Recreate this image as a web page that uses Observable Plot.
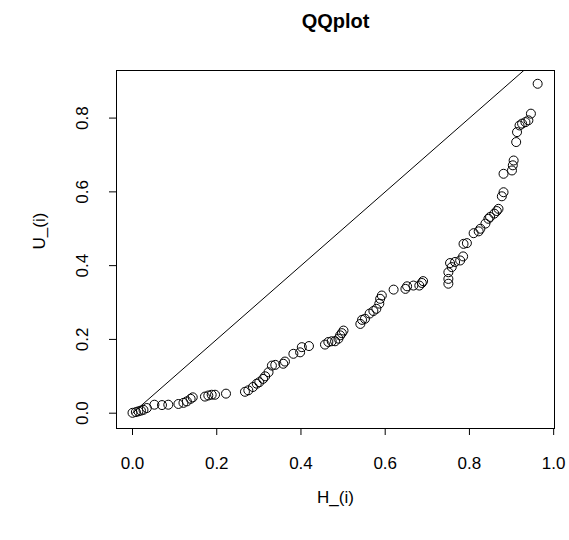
<!DOCTYPE html>
<html>
<head>
<meta charset="utf-8">
<script src="https://cdn.jsdelivr.net/npm/d3@7"></script>
<script src="https://cdn.jsdelivr.net/npm/@observablehq/plot@0.6"></script>
<style>
  html, body { margin: 0; padding: 0; background: white; }
</style>
</head>
<body>
<div id="chart"></div>
<script>
const H = [0.000,0.008,0.014,0.020,0.026,0.034,0.052,0.070,0.085,0.109,0.121,0.129,0.138,0.143,0.172,0.180,0.188,0.196,0.222,
  0.267,0.275,0.286,0.295,0.301,0.310,0.315,0.323,0.331,0.339,0.358,0.362,0.382,0.398,0.402,0.419,0.457,0.465,0.473,0.481,0.489,0.493,0.497,0.501,
  0.541,0.545,0.552,0.563,0.572,0.579,0.586,0.588,0.592,0.620,0.648,0.652,0.667,0.681,0.687,0.690,
  0.750,0.750,0.750,0.758,0.754,0.766,0.778,0.785,0.786,0.794,0.810,0.822,0.826,0.838,0.845,0.849,0.859,0.865,0.869,0.877,0.881,
  0.881,0.901,0.903,0.905,0.911,0.913,0.919,0.925,0.933,0.940,0.946,0.962];
const U = [0.001,0.003,0.005,0.007,0.009,0.014,0.023,0.022,0.023,0.025,0.028,0.032,0.039,0.043,0.045,0.048,0.050,0.050,0.053,
  0.058,0.062,0.071,0.080,0.084,0.093,0.100,0.111,0.129,0.131,0.134,0.140,0.161,0.165,0.179,0.182,0.186,0.193,0.195,0.195,0.202,0.211,0.217,0.224,
  0.242,0.253,0.256,0.270,0.277,0.283,0.297,0.310,0.319,0.335,0.337,0.344,0.346,0.346,0.353,0.358,
  0.351,0.364,0.382,0.396,0.407,0.410,0.414,0.425,0.459,0.461,0.488,0.493,0.500,0.514,0.527,0.532,0.541,0.548,0.554,0.588,0.599,
  0.649,0.658,0.672,0.685,0.735,0.762,0.780,0.785,0.789,0.794,0.812,0.893];
const xTicks = [0, 0.2, 0.4, 0.6, 0.8, 1.0];
const yTicks = [0, 0.2, 0.4, 0.6, 0.8];
const refLine = [0, 1];
const title = "QQplot";
const xLabel = "H_(i)";
const yLabel = "U_(i)";

const points = H.map((h, i) => ({h, u: U[i]}));
const xDomain = [-0.038, 1.002];
const yDomain = [-0.0415, 0.929];
const fmt = d3.format(".1f");
const font = "Liberation Sans, Arial, Helvetica, sans-serif";

const chart = Plot.plot({
  width: 569,
  height: 540,
  marginLeft: 116,
  marginRight: 15,
  marginTop: 70,
  marginBottom: 112,
  style: {fontFamily: font, fontSize: "17px", background: "white", color: "black"},
  x: {domain: xDomain},
  y: {domain: yDomain},
  marks: [
    Plot.line(refLine, {x: d => d, y: d => d, stroke: "black", strokeWidth: 1, clip: true}),
    Plot.dot(points, {x: "h", y: "u", r: 4.5, stroke: "black", strokeWidth: 1, fill: "none"}),
    Plot.frame({stroke: "black", strokeWidth: 1}),
    Plot.axisX({ticks: xTicks, tickSize: 7, tickPadding: 21, tickFormat: fmt, label: null, fontSize: 17}),
    Plot.axisY({ticks: yTicks, tickSize: 7, tickFormat: () => "", label: null}),
    Plot.text(yTicks, {y: d => d, frameAnchor: "left", dx: -34, rotate: -90, text: d => fmt(d), textAnchor: "middle", lineAnchor: "middle", fontSize: 17}),
    Plot.text([xLabel], {frameAnchor: "bottom", dy: 69, text: d => d, lineAnchor: "middle", fontSize: 17}),
    Plot.text([yLabel], {frameAnchor: "left", dx: -77, rotate: -90, text: d => d, lineAnchor: "middle", fontSize: 17}),
    Plot.text([title], {frameAnchor: "top", dy: -49, text: d => d, lineAnchor: "middle", fontWeight: "bold", fontSize: 20})
  ]
});
document.getElementById("chart").appendChild(chart);
</script>
</body>
</html>
